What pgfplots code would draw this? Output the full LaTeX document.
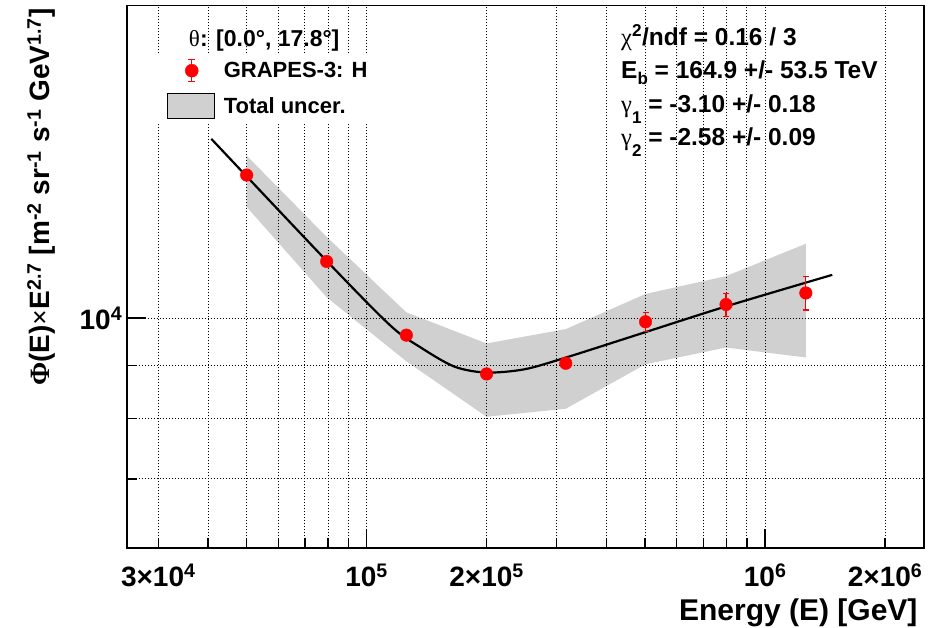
\documentclass[border=0pt]{standalone}
\usepackage{fontspec}
\setmainfont{Liberation Sans}
\newfontfamily\symf{Liberation Serif}
\usepackage{pgfplots}
\pgfplotsset{compat=1.18}
\definecolor{bandgray}{RGB}{208,208,208}

% Measured flux points (energy in GeV, flux x E^2.7)
\pgfplotstableread{
x        y      ep    em
5.0e4    13734  100   100
7.94e4   11338  100   100
1.258e5  9628   80    80
2.0e5    8834   80    80
3.16e5   9046   80    80
5.01e5   9918   210   218
7.98e5   10305  261   267
1.265e6  10573  402   393
}\grapes

\begin{document}
\begin{tikzpicture}
\begin{axis}[
  set layers=standard,
  at={(0pt,0pt)}, anchor=south west,
  scale only axis, width=797pt, height=542.6pt,
  xmode=log, ymode=log,
  xmin=2.5e4, xmax=2.5e6, ymin=6000, ymax=20000,
  axis line style={line width=1.6pt},
  tick align=inside,
  xtick pos=left, ytick pos=left,
  xtick={1e5,1e6},
  xticklabels={10\textsuperscript{5},10\textsuperscript{6}},
  minor xtick={3e4,4e4,5e4,6e4,7e4,8e4,9e4,2e5,3e5,4e5,5e5,6e5,7e5,8e5,9e5,2e6},
  extra x ticks={3e4,2e5,2e6},
  extra x tick labels={3×10\textsuperscript{4},2×10\textsuperscript{5},2×10\textsuperscript{6}},
  extra x tick style={major tick length=10pt, grid=none},
  ytick={1e4}, yticklabels={10\textsuperscript{4}},
  minor ytick={7000,8000,9000},
  grid=both,
  major grid style={black, line width=0.9pt, dash pattern=on 0.9pt off 2.1pt},
  minor grid style={black, line width=0.9pt, dash pattern=on 0.9pt off 2.1pt},
  major tick length=19pt, minor tick length=10pt,
  every tick/.style={black, line width=1.4pt},
  tick label style={font=\fontsize{28}{28}\selectfont\bfseries},
  xticklabel style={yshift=-12pt},
  yticklabel style={xshift=-1pt},
  legend cell align=left,
  legend style={at={(rel axis cs:0.0292,0.911)}, anchor=north west,
    fill=white, draw=none, inner xsep=17pt, inner ysep=4pt,
    font=\fontsize{22}{22}\selectfont\bfseries,
    row sep=10pt},
]
% total uncertainty band
\addplot[on layer=axis background, fill=bandgray, draw=none, forget plot] coordinates {
  (5.0e4,14339) (7.94e4,11973) (1.258e5,10128) (2.0e5,9452)
  (3.16e5,9758) (5.01e5,10549) (7.98e5,10975) (1.265e6,11793)
  (1.265e6,9162) (7.98e5,9368) (5.01e5,9026) (3.16e5,8178)
  (2.0e5,8033) (1.258e5,9086) (7.94e4,10472) (5.0e4,12797)
};
% broken power-law fit
\addplot[black, line width=2.2pt, smooth, forget plot] coordinates {
  (40760,14883) (79640,11338) (114900,9830) (136700,9368) (165800,8981)
  (199200,8862) (248600,8925) (316500,9162) (498100,9686) (799100,10264)
  (1474000,11006)
};
% data points
\addplot[only marks, mark=*, mark size=6.3pt, red,
  legend image code/.code={
    \path[draw=none, fill=none] (0pt,-12.5pt) rectangle (54pt,12.5pt);
    \draw[red, line width=1.2pt] (24pt,-11pt) -- (24pt,11pt)
      (20.5pt,-11pt) -- (27.5pt,-11pt) (20.5pt,11pt) -- (27.5pt,11pt);
    \fill[red] (24pt,0pt) circle (6.5pt);
  },
  error bars/.cd, y dir=both, y explicit,
  error bar style={red, line width=1.2pt},
  error mark options={rotate=90, mark size=3pt, red, line width=1.2pt}]
  table[x=x, y=y, y error plus=ep, y error minus=em] {\grapes};
\addlegendentry{GRAPES-3: H}
\addlegendimage{legend image code/.code={
    \path[draw=none, fill=none] (0pt,-12.5pt) rectangle (54pt,12.5pt);
    \draw[black, line width=1.2pt, fill=bandgray] (0pt,-12.5pt) rectangle (47pt,12.5pt);
  }}
\addlegendentry{Total uncer.}
\end{axis}

% axis titles
\node[rotate=90, anchor=base east, font=\fontsize{28}{28}\selectfont\bfseries]
  at (-76.7pt,543.3pt)
  {{\symf Φ}(E){\symf ×}E\textsuperscript{2.7} [m\textsuperscript{-2} sr\textsuperscript{-1} s\textsuperscript{-1} GeV\textsuperscript{1.7}]};
\node[anchor=base east, font=\fontsize{30}{30}\selectfont\bfseries]
  at (794.3pt,-72.4pt) {Energy (E) [GeV]};

% legend header
\node[anchor=base, font=\fontsize{23}{23}\selectfont\bfseries]
  at (137.5pt,501.6pt) {{\symf\mdseries θ}: [0.0°, 17.8°]};

% fit results
\begin{scope}[every node/.style={anchor=base west, inner sep=0pt, font=\fontsize{24.5}{24.5}\selectfont\bfseries}]
\node at (494.3pt,502.6pt) {{\symf\mdseries χ}\textsuperscript{2}/ndf = 0.16 / 3};
\node at (494.3pt,469.3pt) {E\raisebox{-6pt}{\fontsize{17}{17}\selectfont b} = 164.9 +/- 53.5 TeV};
\node at (494.3pt,436pt) {{\symf\mdseries γ}\raisebox{-11pt}{\fontsize{17}{17}\selectfont 1} = -3.10 +/- 0.18};
\node at (494.3pt,402.6pt) {{\symf\mdseries γ}\raisebox{-11pt}{\fontsize{17}{17}\selectfont 2} = -2.58 +/- 0.09};
\end{scope}

% page frame
\pgfresetboundingbox
\useasboundingbox (-126.7pt,-79.7pt) rectangle (809.3pt,548.3pt);
\end{tikzpicture}
\end{document}
